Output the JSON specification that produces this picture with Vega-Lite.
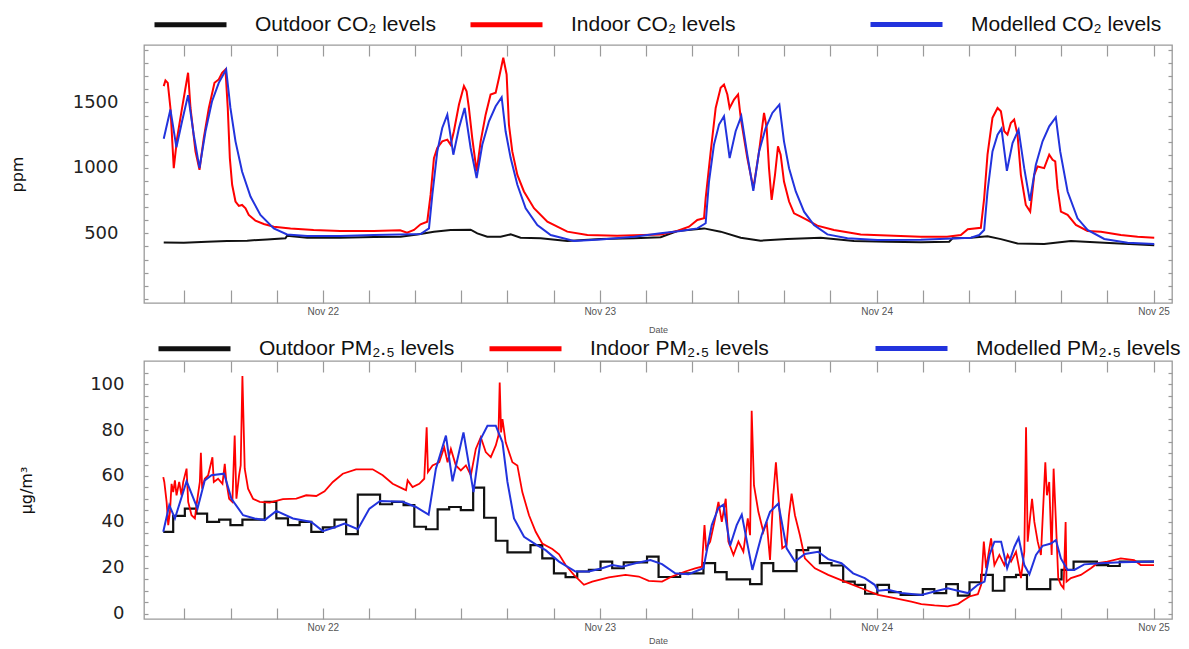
{
  "$schema": "https://vega.github.io/schema/vega-lite/v6.json",
  "padding": {"left": 8, "top": 12, "right": 10, "bottom": 0},
  "spacing": 1,
  "background": "white",
  "config": {
    "font": "Liberation Sans",
    "view": {"stroke": "#9a9a9a", "strokeWidth": 1.3},
    "axis": {"grid": false, "domain": false, "tickColor": "#9a9a9a", "tickWidth": 1.2},
    "legend": {
      "orient": "none", "direction": "horizontal", "symbolType": "M-4,0H4", "symbolSize": 324,
      "symbolStrokeWidth": 5, "labelFontSize": 21, "labelColor": "#111", "labelOffset": 53,
      "columnPadding": 24, "labelLimit": 400, "padding": 0, "title": null
    }
  },
  "resolve": {"scale": {"color": "independent", "stroke": "independent"}},
  "datasets": {
    "co2_out": [
      {"h":10.21,"v":431},{"h":11.95,"v":428},{"h":13.97,"v":436},{"h":15.7,"v":441},{"h":17.44,"v":444},{"h":19.17,"v":454},{"h":20.76,"v":462},{"h":20.9,"v":482},{"h":22.64,"v":467},{"h":25.53,"v":467},{"h":28.42,"v":472},{"h":30.74,"v":474},{"h":32.19,"v":492},{"h":33.63,"v":513},{"h":35.08,"v":526},{"h":36.81,"v":528},{"h":37.39,"v":500},{"h":38.25,"v":474},{"h":39.41,"v":474},{"h":40.28,"v":492},{"h":41.14,"v":467},{"h":42.88,"v":462},{"h":45.19,"v":441},{"h":48.08,"v":456},{"h":50.97,"v":462},{"h":53.28,"v":470},{"h":54.73,"v":518},{"h":57.04,"v":538},{"h":58.48,"v":513},{"h":60.22,"v":467},{"h":61.95,"v":444},{"h":64.26,"v":456},{"h":67.15,"v":467},{"h":70.04,"v":441},{"h":72.93,"v":436},{"h":75.83,"v":433},{"h":78.29,"v":436},{"h":78.58,"v":462},{"h":80.17,"v":467},{"h":81.61,"v":477},{"h":82.77,"v":456},{"h":84.21,"v":423},{"h":86.52,"v":418},{"h":88.84,"v":441},{"h":91.73,"v":428},{"h":96.06,"v":410}
    ],
    "co2_in": [
      {"h":10.21,"v":1625},{"h":10.36,"v":1668},{"h":10.56,"v":1650},{"h":10.79,"v":1458},{"h":11.08,"v":998},{"h":11.37,"v":1228},{"h":11.8,"v":1458},{"h":12.32,"v":1727},{"h":12.53,"v":1458},{"h":12.96,"v":1126},{"h":13.31,"v":986},{"h":13.68,"v":1228},{"h":14.12,"v":1458},{"h":14.61,"v":1650},{"h":14.98,"v":1676},{"h":15.27,"v":1727},{"h":15.56,"v":1752},{"h":15.76,"v":1458},{"h":15.94,"v":1075},{"h":16.14,"v":871},{"h":16.43,"v":743},{"h":16.72,"v":710},{"h":17.0,"v":717},{"h":17.3,"v":692},{"h":17.58,"v":641},{"h":18.16,"v":597},{"h":18.88,"v":572},{"h":19.75,"v":551},{"h":21.2,"v":538},{"h":23.2,"v":526},{"h":25.5,"v":518},{"h":28.4,"v":518},{"h":30.7,"v":523},{"h":31.3,"v":505},{"h":31.9,"v":526},{"h":32.47,"v":569},{"h":33.05,"v":589},{"h":33.34,"v":794},{"h":33.63,"v":1075},{"h":33.92,"v":1152},{"h":34.35,"v":1203},{"h":34.79,"v":1216},{"h":35.08,"v":1177},{"h":35.36,"v":1280},{"h":35.8,"v":1484},{"h":36.23,"v":1625},{"h":36.46,"v":1586},{"h":36.66,"v":1458},{"h":36.95,"v":1228},{"h":37.33,"v":973},{"h":37.68,"v":1203},{"h":38.11,"v":1407},{"h":38.54,"v":1561},{"h":38.98,"v":1574},{"h":39.27,"v":1689},{"h":39.64,"v":1842},{"h":39.93,"v":1714},{"h":40.13,"v":1331},{"h":40.42,"v":1126},{"h":40.86,"v":947},{"h":41.43,"v":820},{"h":42.3,"v":692},{"h":43.46,"v":589},{"h":45.19,"v":513},{"h":46.93,"v":487},{"h":49.5,"v":482},{"h":53.3,"v":492},{"h":54.7,"v":518},{"h":55.74,"v":551},{"h":56.46,"v":602},{"h":57.04,"v":615},{"h":57.18,"v":768},{"h":57.62,"v":1126},{"h":58.05,"v":1458},{"h":58.48,"v":1612},{"h":58.77,"v":1637},{"h":59.06,"v":1561},{"h":59.26,"v":1458},{"h":59.64,"v":1522},{"h":59.99,"v":1561},{"h":60.22,"v":1382},{"h":60.79,"v":1075},{"h":61.32,"v":845},{"h":61.81,"v":1126},{"h":62.24,"v":1420},{"h":62.47,"v":1305},{"h":62.67,"v":998},{"h":62.9,"v":756},{"h":63.19,"v":947},{"h":63.45,"v":1165},{"h":63.68,"v":1101},{"h":63.97,"v":896},{"h":64.41,"v":743},{"h":64.84,"v":653},{"h":65.42,"v":628},{"h":66.0,"v":602},{"h":66.86,"v":559},{"h":68.3,"v":526},{"h":70.62,"v":492},{"h":73.5,"v":482},{"h":75.82,"v":474},{"h":78.1,"v":474},{"h":79.3,"v":487},{"h":79.9,"v":531},{"h":81.03,"v":543},{"h":81.32,"v":768},{"h":81.61,"v":1101},{"h":82.04,"v":1382},{"h":82.48,"v":1458},{"h":82.77,"v":1433},{"h":83.06,"v":1280},{"h":83.34,"v":1254},{"h":83.63,"v":1343},{"h":83.92,"v":1369},{"h":84.21,"v":1254},{"h":84.5,"v":947},{"h":84.93,"v":717},{"h":85.31,"v":666},{"h":85.66,"v":947},{"h":85.95,"v":1011},{"h":86.52,"v":998},{"h":86.96,"v":1101},{"h":87.25,"v":1062},{"h":87.48,"v":1050},{"h":87.68,"v":845},{"h":87.97,"v":666},{"h":88.55,"v":641},{"h":89.27,"v":564},{"h":90.28,"v":518},{"h":91.44,"v":513},{"h":93.17,"v":487},{"h":94.62,"v":474},{"h":96.06,"v":467}
    ],
    "co2_mod": [
      {"h":10.21,"v":1223},{"h":10.79,"v":1446},{"h":11.31,"v":1157},{"h":11.8,"v":1356},{"h":12.32,"v":1556},{"h":12.81,"v":1254},{"h":13.31,"v":998},{"h":13.83,"v":1280},{"h":14.4,"v":1510},{"h":14.98,"v":1650},{"h":15.62,"v":1752},{"h":15.99,"v":1458},{"h":16.43,"v":1203},{"h":17.0,"v":973},{"h":17.73,"v":781},{"h":18.59,"v":641},{"h":19.75,"v":538},{"h":20.9,"v":492},{"h":22.64,"v":480},{"h":25.53,"v":480},{"h":28.42,"v":487},{"h":30.74,"v":492},{"h":32.47,"v":495},{"h":33.2,"v":538},{"h":33.49,"v":794},{"h":33.92,"v":1126},{"h":34.35,"v":1305},{"h":34.79,"v":1407},{"h":35.31,"v":1101},{"h":35.8,"v":1305},{"h":36.29,"v":1458},{"h":36.81,"v":1152},{"h":37.33,"v":922},{"h":37.82,"v":1177},{"h":38.4,"v":1356},{"h":38.98,"v":1471},{"h":39.5,"v":1540},{"h":39.84,"v":1280},{"h":40.28,"v":1075},{"h":40.86,"v":871},{"h":41.58,"v":692},{"h":42.59,"v":564},{"h":43.75,"v":487},{"h":45.77,"v":441},{"h":48.08,"v":454},{"h":50.97,"v":474},{"h":53.28,"v":500},{"h":55.0,"v":518},{"h":56.46,"v":538},{"h":57.18,"v":577},{"h":57.47,"v":896},{"h":57.9,"v":1177},{"h":58.34,"v":1331},{"h":58.77,"v":1395},{"h":59.26,"v":1075},{"h":59.78,"v":1280},{"h":60.27,"v":1395},{"h":60.79,"v":1101},{"h":61.31,"v":825},{"h":61.81,"v":1126},{"h":62.38,"v":1305},{"h":62.96,"v":1420},{"h":63.57,"v":1484},{"h":63.97,"v":1203},{"h":64.41,"v":998},{"h":64.99,"v":820},{"h":65.71,"v":666},{"h":66.57,"v":564},{"h":67.73,"v":492},{"h":69.47,"v":462},{"h":72.07,"v":449},{"h":75.83,"v":452},{"h":80.17,"v":467},{"h":80.89,"v":487},{"h":81.32,"v":526},{"h":81.61,"v":820},{"h":82.04,"v":1126},{"h":82.48,"v":1254},{"h":82.82,"v":1300},{"h":83.29,"v":978},{"h":83.78,"v":1190},{"h":84.3,"v":1292},{"h":84.79,"v":998},{"h":85.28,"v":748},{"h":85.8,"v":1024},{"h":86.38,"v":1203},{"h":86.96,"v":1318},{"h":87.53,"v":1387},{"h":87.91,"v":1126},{"h":88.55,"v":820},{"h":89.41,"v":615},{"h":90.28,"v":526},{"h":91.73,"v":457},{"h":93.75,"v":428},{"h":96.06,"v":418}
    ],
    "pm_out": [
      {"h":10.17,"v":35.7},{"h":11.03,"v":42.6},{"h":12.04,"v":45.8},{"h":13.05,"v":43.6},{"h":13.97,"v":40.0},{"h":15.01,"v":41.0},{"h":15.99,"v":38.6},{"h":17.03,"v":41.0},{"h":18.96,"v":48.7},{"h":19.97,"v":41.5},{"h":20.98,"v":38.6},{"h":21.99,"v":40.0},{"h":23.0,"v":35.7},{"h":24.0,"v":37.6},{"h":25.01,"v":41.0},{"h":26.02,"v":34.7},{"h":27.03,"v":51.9},{"h":28.96,"v":47.7},{"h":30.0,"v":48.7},{"h":31.0,"v":47.3},{"h":31.93,"v":37.9},{"h":32.94,"v":36.8},{"h":33.95,"v":45.5},{"h":34.95,"v":46.5},{"h":35.96,"v":45.1},{"h":37.03,"v":54.9},{"h":37.98,"v":41.8},{"h":38.99,"v":31.8},{"h":40.0,"v":26.7},{"h":42.0,"v":29.9},{"h":43.02,"v":24.1},{"h":44.03,"v":17.6},{"h":45.04,"v":15.9},{"h":46.05,"v":18.4},{"h":47.06,"v":19.1},{"h":48.07,"v":22.7},{"h":49.08,"v":19.8},{"h":50.08,"v":22.4},{"h":52.1,"v":24.9},{"h":53.1,"v":16.0},{"h":54.97,"v":17.6},{"h":56.99,"v":22.0},{"h":58.0,"v":18.1},{"h":59.0,"v":15.0},{"h":61.03,"v":12.9},{"h":62.03,"v":22.0},{"h":63.04,"v":18.6},{"h":65.06,"v":27.7},{"h":66.07,"v":28.8},{"h":67.08,"v":22.0},{"h":68.09,"v":21.0},{"h":69.1,"v":14.0},{"h":70.1,"v":12.6},{"h":71.0,"v":8.7},{"h":72.06,"v":12.6},{"h":73.07,"v":9.4},{"h":74.08,"v":8.2},{"h":76.0,"v":10.7},{"h":77.0,"v":9.0},{"h":78.03,"v":12.9},{"h":79.04,"v":7.9},{"h":80.05,"v":13.7},{"h":81.06,"v":16.9},{"h":82.07,"v":10.0},{"h":83.07,"v":15.9},{"h":84.08,"v":16.9},{"h":85.03,"v":10.7},{"h":87.05,"v":15.0},{"h":88.03,"v":19.1},{"h":89.07,"v":22.7},{"h":91.09,"v":21.2},{"h":92.07,"v":20.8},{"h":93.07,"v":22.7},{"h":96.04,"v":22.7}
    ],
    "pm_in": [
      {"h":10.17,"v":59.5},{"h":10.26,"v":57.4},{"h":10.46,"v":48.7},{"h":10.6,"v":38.6},{"h":10.75,"v":44.4},{"h":10.89,"v":56.6},{"h":11.03,"v":53.0},{"h":11.18,"v":58.1},{"h":11.32,"v":51.6},{"h":11.55,"v":57.4},{"h":11.75,"v":51.6},{"h":11.9,"v":57.4},{"h":12.19,"v":63.2},{"h":12.33,"v":48.7},{"h":12.62,"v":42.9},{"h":12.91,"v":41.5},{"h":13.05,"v":47.3},{"h":13.34,"v":57.4},{"h":13.43,"v":70.1},{"h":13.54,"v":54.5},{"h":13.77,"v":58.8},{"h":14.06,"v":60.3},{"h":14.43,"v":68.2},{"h":14.55,"v":57.4},{"h":14.92,"v":58.8},{"h":15.3,"v":56.6},{"h":15.5,"v":65.3},{"h":15.64,"v":57.4},{"h":15.88,"v":50.1},{"h":16.16,"v":48.7},{"h":16.36,"v":77.6},{"h":16.51,"v":50.1},{"h":16.74,"v":60.3},{"h":16.88,"v":64.6},{"h":17.03,"v":103.6},{"h":17.23,"v":63.2},{"h":17.52,"v":54.5},{"h":17.95,"v":50.1},{"h":18.53,"v":48.7},{"h":19.39,"v":48.4},{"h":20.54,"v":49.9},{"h":21.7,"v":50.1},{"h":22.56,"v":51.6},{"h":23.43,"v":51.3},{"h":24.15,"v":53.3},{"h":24.87,"v":57.4},{"h":25.73,"v":61.0},{"h":26.88,"v":62.9},{"h":28.32,"v":62.9},{"h":29.19,"v":60.3},{"h":30.05,"v":56.6},{"h":30.92,"v":54.5},{"h":31.21,"v":53.8},{"h":31.35,"v":58.1},{"h":31.78,"v":55.2},{"h":32.36,"v":56.6},{"h":32.79,"v":58.8},{"h":33.0,"v":81.2},{"h":33.11,"v":61.7},{"h":33.51,"v":64.6},{"h":34.09,"v":66.0},{"h":34.52,"v":72.5},{"h":34.81,"v":66.0},{"h":35.1,"v":71.8},{"h":35.53,"v":64.6},{"h":35.96,"v":62.4},{"h":36.4,"v":64.6},{"h":36.83,"v":60.3},{"h":37.26,"v":71.8},{"h":37.69,"v":76.9},{"h":38.12,"v":70.4},{"h":38.56,"v":68.2},{"h":38.99,"v":73.3},{"h":39.22,"v":77.6},{"h":39.33,"v":100.7},{"h":39.45,"v":79.0},{"h":39.57,"v":84.8},{"h":39.85,"v":74.7},{"h":40.43,"v":66.0},{"h":40.86,"v":64.6},{"h":41.29,"v":53.0},{"h":41.87,"v":42.9},{"h":42.45,"v":35.7},{"h":43.02,"v":30.6},{"h":43.89,"v":28.2},{"h":44.47,"v":25.9},{"h":45.04,"v":21.2},{"h":45.76,"v":16.9},{"h":46.63,"v":12.6},{"h":47.35,"v":14.0},{"h":48.79,"v":15.8},{"h":50.23,"v":16.9},{"h":51.38,"v":16.2},{"h":52.25,"v":14.3},{"h":53.4,"v":14.0},{"h":54.25,"v":16.2},{"h":55.41,"v":18.4},{"h":56.27,"v":19.8},{"h":56.85,"v":20.5},{"h":57.08,"v":38.6},{"h":57.22,"v":28.5},{"h":57.57,"v":31.4},{"h":58.0,"v":41.5},{"h":58.29,"v":48.7},{"h":58.58,"v":40.0},{"h":58.92,"v":50.1},{"h":59.15,"v":31.4},{"h":59.59,"v":25.6},{"h":60.02,"v":31.4},{"h":60.45,"v":27.0},{"h":60.83,"v":41.5},{"h":61.03,"v":34.2},{"h":61.17,"v":88.4},{"h":61.37,"v":55.9},{"h":61.75,"v":44.4},{"h":62.18,"v":35.7},{"h":62.47,"v":40.0},{"h":62.76,"v":23.4},{"h":63.04,"v":51.6},{"h":63.27,"v":66.0},{"h":63.48,"v":51.6},{"h":63.82,"v":28.5},{"h":64.2,"v":29.9},{"h":64.4,"v":42.9},{"h":64.63,"v":52.3},{"h":64.92,"v":42.9},{"h":65.35,"v":34.2},{"h":65.78,"v":24.1},{"h":66.65,"v":19.8},{"h":67.8,"v":16.9},{"h":69.24,"v":14.0},{"h":70.68,"v":11.1},{"h":72.12,"v":8.2},{"h":73.56,"v":6.8},{"h":75.0,"v":5.3},{"h":75.87,"v":4.2},{"h":77.02,"v":3.6},{"h":78.17,"v":3.2},{"h":79.04,"v":4.2},{"h":79.47,"v":5.6},{"h":80.05,"v":7.5},{"h":80.77,"v":8.5},{"h":81.06,"v":12.6},{"h":81.29,"v":31.4},{"h":81.49,"v":19.8},{"h":81.92,"v":32.8},{"h":82.21,"v":21.2},{"h":82.64,"v":25.6},{"h":83.07,"v":21.2},{"h":83.36,"v":25.6},{"h":83.65,"v":22.7},{"h":84.08,"v":27.0},{"h":84.51,"v":15.5},{"h":84.8,"v":27.0},{"h":84.95,"v":81.2},{"h":85.09,"v":31.4},{"h":85.32,"v":42.9},{"h":85.47,"v":50.1},{"h":85.67,"v":40.0},{"h":85.96,"v":31.4},{"h":86.24,"v":25.6},{"h":86.62,"v":66.0},{"h":86.76,"v":51.6},{"h":86.96,"v":57.4},{"h":87.17,"v":25.6},{"h":87.34,"v":63.2},{"h":87.54,"v":40.0},{"h":87.74,"v":15.5},{"h":87.97,"v":12.6},{"h":88.2,"v":11.1},{"h":88.38,"v":40.0},{"h":88.46,"v":14.0},{"h":88.84,"v":15.5},{"h":89.7,"v":16.9},{"h":90.57,"v":19.8},{"h":91.14,"v":22.0},{"h":92.0,"v":22.7},{"h":93.16,"v":24.1},{"h":94.31,"v":23.4},{"h":94.89,"v":21.2},{"h":96.04,"v":21.2}
    ],
    "pm_mod": [
      {"h":10.17,"v":35.7},{"h":10.69,"v":47.3},{"h":11.18,"v":41.5},{"h":12.19,"v":57.7},{"h":13.14,"v":45.8},{"h":13.77,"v":58.1},{"h":14.35,"v":60.3},{"h":15.44,"v":61.0},{"h":16.08,"v":50.1},{"h":17.09,"v":42.9},{"h":18.09,"v":41.5},{"h":18.96,"v":40.8},{"h":19.97,"v":44.8},{"h":21.41,"v":41.5},{"h":23.0,"v":40.0},{"h":24.0,"v":36.0},{"h":25.16,"v":37.9},{"h":25.88,"v":39.3},{"h":27.03,"v":36.8},{"h":28.04,"v":45.8},{"h":28.96,"v":49.1},{"h":30.92,"v":48.8},{"h":32.07,"v":46.5},{"h":33.17,"v":43.2},{"h":33.8,"v":63.2},{"h":34.67,"v":77.6},{"h":35.24,"v":57.7},{"h":36.19,"v":79.0},{"h":37.06,"v":53.0},{"h":37.69,"v":76.2},{"h":38.27,"v":81.9},{"h":38.99,"v":81.9},{"h":39.57,"v":74.7},{"h":40.0,"v":57.4},{"h":40.57,"v":41.5},{"h":41.44,"v":33.5},{"h":42.45,"v":30.2},{"h":43.31,"v":27.7},{"h":44.47,"v":22.7},{"h":45.9,"v":18.4},{"h":47.06,"v":18.4},{"h":48.21,"v":19.8},{"h":49.08,"v":21.2},{"h":49.94,"v":20.5},{"h":51.09,"v":22.0},{"h":52.39,"v":23.4},{"h":53.4,"v":21.6},{"h":54.54,"v":17.6},{"h":55.7,"v":17.2},{"h":56.99,"v":19.8},{"h":57.71,"v":38.6},{"h":58.29,"v":46.1},{"h":58.72,"v":47.5},{"h":59.3,"v":29.6},{"h":59.87,"v":38.6},{"h":60.31,"v":43.2},{"h":61.23,"v":19.1},{"h":62.03,"v":34.2},{"h":62.76,"v":44.4},{"h":63.48,"v":48.0},{"h":64.2,"v":28.5},{"h":64.92,"v":22.7},{"h":65.78,"v":26.0},{"h":66.93,"v":27.0},{"h":67.8,"v":23.8},{"h":68.95,"v":22.0},{"h":69.96,"v":17.6},{"h":70.97,"v":15.5},{"h":71.83,"v":12.6},{"h":72.12,"v":10.0},{"h":72.99,"v":10.4},{"h":74.14,"v":9.0},{"h":75.87,"v":8.2},{"h":77.02,"v":9.7},{"h":78.17,"v":11.1},{"h":79.04,"v":10.0},{"h":79.9,"v":9.0},{"h":80.77,"v":12.6},{"h":81.35,"v":14.0},{"h":81.78,"v":25.6},{"h":82.21,"v":31.4},{"h":82.79,"v":31.4},{"h":83.31,"v":19.8},{"h":83.94,"v":29.2},{"h":84.31,"v":33.1},{"h":84.8,"v":21.2},{"h":85.24,"v":17.2},{"h":85.81,"v":25.6},{"h":86.39,"v":29.6},{"h":87.11,"v":30.6},{"h":87.54,"v":32.1},{"h":87.97,"v":24.1},{"h":88.55,"v":19.1},{"h":89.13,"v":19.1},{"h":89.99,"v":21.5},{"h":91.43,"v":22.0},{"h":93.16,"v":22.4},{"h":96.04,"v":22.7}
    ]
  },
  "vconcat": [
    {
      "width": 1028,
      "height": 258,
      "resolve": {"axis": {"x": "independent", "y": "independent"}},
      "layer": [
        {
          "data": {"name": "co2_out"},
          "mark": {"type": "line", "strokeWidth": 2},
          "encoding": {
            "x": {"field": "h", "type": "quantitative",
              "scale": {"domain": [8.5, 97.6], "nice": false, "zero": false},
              "axis": {"orient": "bottom", "values": [12,16,20,24,28,32,36,40,44,48,52,56,60,64,68,72,76,80,84,88,92,96],
                "labelExpr": "datum.value == 24 ? 'Nov 22' : datum.value == 48 ? 'Nov 23' : datum.value == 72 ? 'Nov 24' : datum.value == 96 ? 'Nov 25' : ''",
                "tickSize": -13, "labelPadding": 16, "labelFontSize": 10, "labelColor": "#555", "labelFlush": false,
                "title": "Date", "titleFontSize": 9, "titleFontWeight": "normal", "titleColor": "#555", "titlePadding": 9}},
            "y": {"field": "v", "type": "quantitative",
              "scale": {"domain": [-32, 1939], "nice": false, "zero": false},
              "axis": {"orient": "left", "values": [0,100,200,300,400,500,600,700,800,900,1000,1100,1200,1300,1400,1500,1600,1700,1800,1900],
                "format": "d", "labelExpr": "datum.value % 500 == 0 && datum.value > 0 ? datum.label : ''",
                "tickSize": -4, "labelPadding": 30, "labelFont": "DejaVu Sans", "labelFontSize": 18, "labelColor": "#222",
                "title": "ppm", "titleFont": "DejaVu Sans", "titleFontSize": 16, "titleFontWeight": "normal", "titleColor": "#111", "titlePadding": 47}},
            "color": {"datum": "Outdoor CO₂ levels", "type": "nominal",
              "scale": {"domain": ["Outdoor CO₂ levels", "Indoor CO₂ levels"], "range": ["#111111", "#ff0000"]},
              "legend": {"legendX": 35, "legendY": -32}}
          }
        },
        {
          "data": {"name": "co2_in"},
          "mark": {"type": "line", "strokeWidth": 2},
          "encoding": {
            "x": {"field": "h", "type": "quantitative",
              "axis": {"orient": "top", "values": [12,16,20,24,28,32,36,40,44,48,52,56,60,64,68,72,76,80,84,88,92,96],
                "labels": false, "tickSize": -11, "title": null}},
            "y": {"field": "v", "type": "quantitative",
              "axis": {"orient": "right", "values": [0,100,200,300,400,500,600,700,800,900,1000,1100,1200,1300,1400,1500,1600,1700,1800,1900],
                "labels": false, "tickSize": -4, "title": null}},
            "color": {"datum": "Indoor CO₂ levels", "type": "nominal"}
          }
        },
        {
          "data": {"name": "co2_mod"},
          "mark": {"type": "line", "strokeWidth": 2},
          "encoding": {
            "x": {"field": "h", "type": "quantitative", "axis": null},
            "y": {"field": "v", "type": "quantitative", "axis": null},
            "stroke": {"datum": "Modelled CO₂ levels", "type": "nominal",
              "scale": {"domain": ["Modelled CO₂ levels"], "range": ["#2233dd"]},
              "legend": {"legendX": 751, "legendY": -32}}
          }
        }
      ]
    },
    {
      "width": 1028,
      "height": 258,
      "resolve": {"axis": {"x": "independent", "y": "independent"}},
      "layer": [
        {
          "data": {"name": "pm_out"},
          "mark": {"type": "line", "strokeWidth": 2.2, "interpolate": "step-after"},
          "encoding": {
            "x": {"field": "h", "type": "quantitative",
              "scale": {"domain": [8.5, 97.6], "nice": false, "zero": false},
              "axis": {"orient": "bottom", "values": [12,16,20,24,28,32,36,40,44,48,52,56,60,64,68,72,76,80,84,88,92,96],
                "labelExpr": "datum.value == 24 ? 'Nov 22' : datum.value == 48 ? 'Nov 23' : datum.value == 72 ? 'Nov 24' : datum.value == 96 ? 'Nov 25' : ''",
                "tickSize": -11, "labelPadding": 14, "labelFontSize": 10, "labelColor": "#555", "labelFlush": false,
                "title": "Date", "titleFontSize": 9, "titleFontWeight": "normal", "titleColor": "#555", "titlePadding": 4}},
            "y": {"field": "v", "type": "quantitative",
              "scale": {"domain": [-2.3, 110.1], "nice": false, "zero": false},
              "axis": {"orient": "left", "values": [0,5,10,15,20,25,30,35,40,45,50,55,60,65,70,75,80,85,90,95,100,105],
                "format": "d", "labelExpr": "datum.value % 20 == 0 ? datum.label : ''",
                "tickSize": -4, "labelPadding": 24, "labelFont": "DejaVu Sans", "labelFontSize": 18, "labelColor": "#222",
                "title": "μg/m³", "titleFont": "DejaVu Sans", "titleFontSize": 16, "titleFontWeight": "normal", "titleColor": "#111", "titlePadding": 55}},
            "color": {"datum": "Outdoor PM₂.₅ levels", "type": "nominal",
              "scale": {"domain": ["Outdoor PM₂.₅ levels", "Indoor PM₂.₅ levels"], "range": ["#111111", "#ff0000"]},
              "legend": {"legendX": 39, "legendY": -24}}
          }
        },
        {
          "data": {"name": "pm_in"},
          "mark": {"type": "line", "strokeWidth": 1.8},
          "encoding": {
            "x": {"field": "h", "type": "quantitative",
              "axis": {"orient": "top", "values": [12,16,20,24,28,32,36,40,44,48,52,56,60,64,68,72,76,80,84,88,92,96],
                "labels": false, "tickSize": -11, "title": null}},
            "y": {"field": "v", "type": "quantitative",
              "axis": {"orient": "right", "values": [0,5,10,15,20,25,30,35,40,45,50,55,60,65,70,75,80,85,90,95,100,105],
                "labels": false, "tickSize": -4, "title": null}},
            "color": {"datum": "Indoor PM₂.₅ levels", "type": "nominal"}
          }
        },
        {
          "data": {"name": "pm_mod"},
          "mark": {"type": "line", "strokeWidth": 2},
          "encoding": {
            "x": {"field": "h", "type": "quantitative", "axis": null},
            "y": {"field": "v", "type": "quantitative", "axis": null},
            "stroke": {"datum": "Modelled PM₂.₅ levels", "type": "nominal",
              "scale": {"domain": ["Modelled PM₂.₅ levels"], "range": ["#2233dd"]},
              "legend": {"legendX": 756, "legendY": -24}}
          }
        }
      ]
    }
  ]
}
